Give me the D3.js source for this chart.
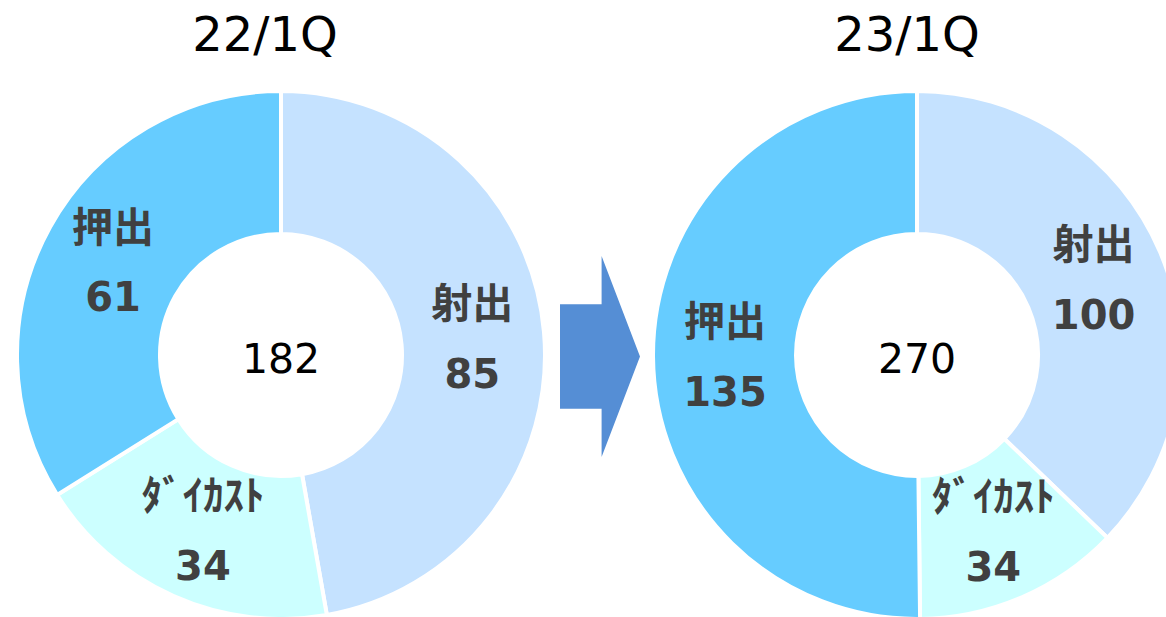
<!DOCTYPE html>
<html><head><meta charset="utf-8">
<script src="https://cdn.jsdelivr.net/npm/d3@7"></script>
<style>body{margin:0;background:#fff}svg{display:block}</style>
</head><body>
<svg id="c" width="1166" height="617"></svg>
<script>
const categories = ["射出", "ﾀﾞｲｶｽﾄ", "押出"];
const values22 = [85, 34, 61];
const values23 = [100, 34, 135];
const totals = ["182", "270"];
const titles = ["22/1Q", "23/1Q"];
const colors = ["#C5E2FF", "#CCFFFF", "#66CCFF"];

const svg = d3.select("#c");
const outerR = 264, innerR = 121, labelR = 192;
const pie = d3.pie().sort(null).value(d => d.v);
const arc = d3.arc().innerRadius(innerR).outerRadius(outerR);
const labelArc = d3.arc().innerRadius(labelR).outerRadius(labelR);
const color = d3.scaleOrdinal().domain(categories).range(colors);

const charts = [
  {cx: 281, cy: 355, vals: values22, total: totals[0], title: titles[0], tx: 265},
  {cx: 917, cy: 355, vals: values23, total: totals[1], title: titles[1], tx: 907}
];

charts.forEach(c => {
  const data = categories.map((k, i) => ({k, v: c.vals[i]}));
  const g = svg.append("g").attr("transform", `translate(${c.cx},${c.cy})`);
  const arcs = pie(data);
  g.selectAll("path").data(arcs).join("path")
    .attr("d", arc)
    .attr("fill", d => color(d.data.k))
    .attr("stroke", "#fff").attr("stroke-width", 4);
  const lab = g.selectAll("g.lab").data(arcs).join("g").attr("class", "lab")
    .attr("transform", d => `translate(${labelArc.centroid(d)})`);
  lab.append("text").attr("text-anchor", "middle").attr("y", -35).attr("dy", "0.36em")
    .attr("font-family", "'Noto Sans CJK JP', sans-serif").attr("font-weight", "bold")
    .attr("font-size", 41).attr("fill", "#404040")
    .text(d => d.data.k);
  lab.append("text").attr("text-anchor", "middle").attr("y", 35).attr("dy", "0.36em")
    .attr("font-family", "'DejaVu Sans', Verdana, sans-serif").attr("font-weight", "bold")
    .attr("font-size", 40).attr("fill", "#404040")
    .text(d => d.data.v);
  g.append("text").attr("text-anchor", "middle").attr("y", 3).attr("dy", "0.36em")
    .attr("font-family", "'DejaVu Sans', Verdana, sans-serif")
    .attr("font-size", 41).attr("fill", "#000").text(c.total);
  svg.append("text").attr("x", c.tx).attr("y", 51).attr("text-anchor", "middle")
    .attr("font-family", "'DejaVu Sans', Verdana, sans-serif")
    .attr("font-size", 48).attr("fill", "#000").text(c.title);
});

// arrow
const ax = d3.scaleLinear().domain([0, 1]).range([560, 640]);
const ay = d3.scaleLinear().domain([0, 1]).range([256, 457]);
const pts = [[0,0.24],[0.52,0.24],[0.52,0],[1,0.5],[0.52,1],[0.52,0.76],[0,0.76]];
svg.append("path")
  .attr("d", d3.line().x(p => ax(p[0])).y(p => ay(p[1]))(pts) + "Z")
  .attr("fill", "#558ED5");
</script>
</body></html>
